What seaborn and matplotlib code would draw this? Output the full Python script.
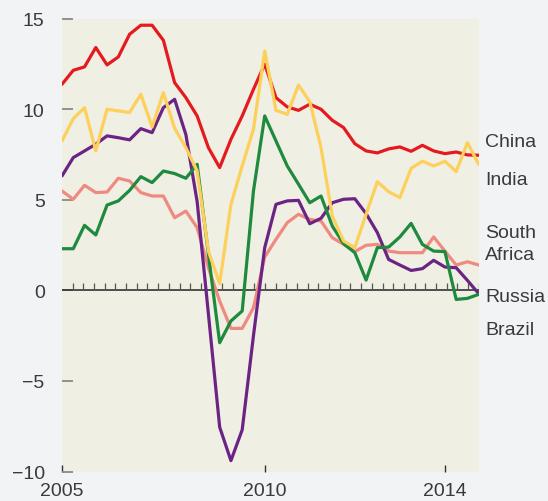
import numpy as np
import pandas as pd
import matplotlib
matplotlib.use("Agg")
import matplotlib.pyplot as plt
import matplotlib.transforms as mtransforms
import seaborn as sns

# ---- data (quarterly, % change) ----
start_year = 2005.5
china = [11.38, 12.15, 12.34, 13.41, 12.45, 12.89, 14.14, 14.64, 14.64, 13.81,
         11.47, 10.64, 9.63, 7.88, 6.78, 8.34, 9.63, 11.1, 12.49, 10.64,
         10.13, 9.94, 10.28, 10.0, 9.39, 8.99, 8.1, 7.7, 7.59, 7.81,
         7.92, 7.68, 8.01, 7.7, 7.55, 7.64, 7.48, 7.46]
india = [8.25, 9.48, 10.09, 7.70, 10.0, 9.91, 9.82, 10.83, 9.02, 10.92,
         8.95, 7.88, 6.59, 2.17, 0.37, 4.75, 6.87, 8.9, 13.22, 9.94,
         9.72, 11.34, 10.42, 7.88, 4.1, 2.73, 2.36, 4.2, 6.0, 5.45,
         5.12, 6.74, 7.13, 6.87, 7.13, 6.56, 8.16, 6.96]
russia = [6.32, 7.33, 7.7, 8.07, 8.53, 8.43, 8.31, 8.93, 8.71, 10.09,
          10.55, 8.6, 4.9, -1.3, -7.55, -9.4, -7.7, -2.5, 2.36, 4.75,
          4.94, 4.97, 3.68, 3.98, 4.84, 5.03, 5.06, 4.24, 3.19, 1.71,
          1.4, 1.1, 1.2, 1.66, 1.29, 1.25, 0.55, -0.18]
south_africa = [2.3, 2.3, 3.59, 3.06, 4.71, 4.94, 5.52, 6.28, 5.95, 6.59,
                6.45, 6.19, 6.96, 2.0, -2.89, -1.69, -1.14, 5.49, 9.63, 8.25,
                6.87, 5.86, 4.84, 5.21, 3.55, 2.58, 2.08, 0.57, 2.36, 2.39,
                2.95, 3.7, 2.54, 2.17, 2.14, -0.5, -0.44, -0.22]
brazil = [5.49, 5.03, 5.8, 5.4, 5.43, 6.19, 6.04, 5.4, 5.21, 5.21,
          4.01, 4.38, 3.46, 1.25, -0.59, -2.1, -2.1, -0.96, 1.84, 2.82,
          3.74, 4.2, 3.92, 3.83, 2.91, 2.54, 2.14, 2.49, 2.54, 2.17,
          2.08, 2.08, 2.08, 2.95, 2.17, 1.4, 1.58, 1.4]

series_order = ["Brazil", "Russia", "South Africa", "China", "India"]
series = {"China": china, "India": india, "Russia": russia,
          "South Africa": south_africa, "Brazil": brazil}
colors = {"China": "#e41a1f", "India": "#fdd05a", "South Africa": "#1e8a3e",
          "Russia": "#6c2484", "Brazil": "#f08a80"}

x_ticks = [2005.5, 2010, 2014]
x_ticklabels = ["2005", "2010", "2014"]
y_ticks = [-10, -5, 0, 5, 10, 15]

n = len(china)
years = start_year + 0.25 * np.arange(n)
df = pd.concat([pd.DataFrame({"year": years, "value": series[k], "country": k})
                for k in series_order], ignore_index=True)

# ---- style ----
sns.set_style("white")
plt.rcParams["font.family"] = ["Liberation Sans", "DejaVu Sans"]

fig = plt.figure(figsize=(5.48, 5.02), dpi=100, facecolor="#f2f3f5")
ax = fig.add_axes([62 / 548, 1 - 472.5 / 502, (478.7 - 62) / 548, (472.5 - 19.7) / 502])
ax.set_facecolor("#efefe4")

# zero line with small ticks
ax.axhline(0, color="#333333", lw=1.2, zorder=1)
trans = mtransforms.blended_transform_factory(ax.transAxes, ax.transData)
tick_x = np.arange(1, 40) / 39
ax.vlines(tick_x, 0, 0.4, transform=trans, color="#555555", lw=0.9, zorder=1)

for k in series_order:
    sub = df[df["country"] == k]
    sns.lineplot(data=sub, x="year", y="value", color=colors[k], lw=2.3,
                 ax=ax, legend=False, zorder=3)

ax.set_xlim(years[0], years[-1])
ax.set_ylim(-10, 15)
ax.set_xticks(x_ticks)
ax.set_xticklabels(x_ticklabels)
ax.set_yticks(y_ticks)
ax.set_yticklabels([("\u2212" + str(abs(v))) if v < 0 else str(v) for v in y_ticks])
ax.set_xlabel("")
ax.set_ylabel("")
for s in ax.spines.values():
    s.set_visible(False)

ax.tick_params(axis="y", direction="in", length=8, width=1.3, color="#888888",
               labelsize=14, labelcolor="#3a3a3a", pad=12.5, left=True)
ax.tick_params(axis="x", direction="in", length=5, width=1.0, color="#333333",
               labelsize=14, labelcolor="#3a3a3a", pad=7.5, bottom=True)

# right-hand labels
labels = [("China", 8.2), ("India", 6.14), ("South\nAfrica", 2.6),
          ("Russia", -0.35), ("Brazil", -2.16)]
for name, yv in labels:
    ax.text(1.015, yv, name, transform=trans, ha="left", va="center",
            fontsize=14, color="#3a3a3a", linespacing=1.35, clip_on=False)

fig.savefig("out.png", dpi=100, facecolor=fig.get_facecolor())
